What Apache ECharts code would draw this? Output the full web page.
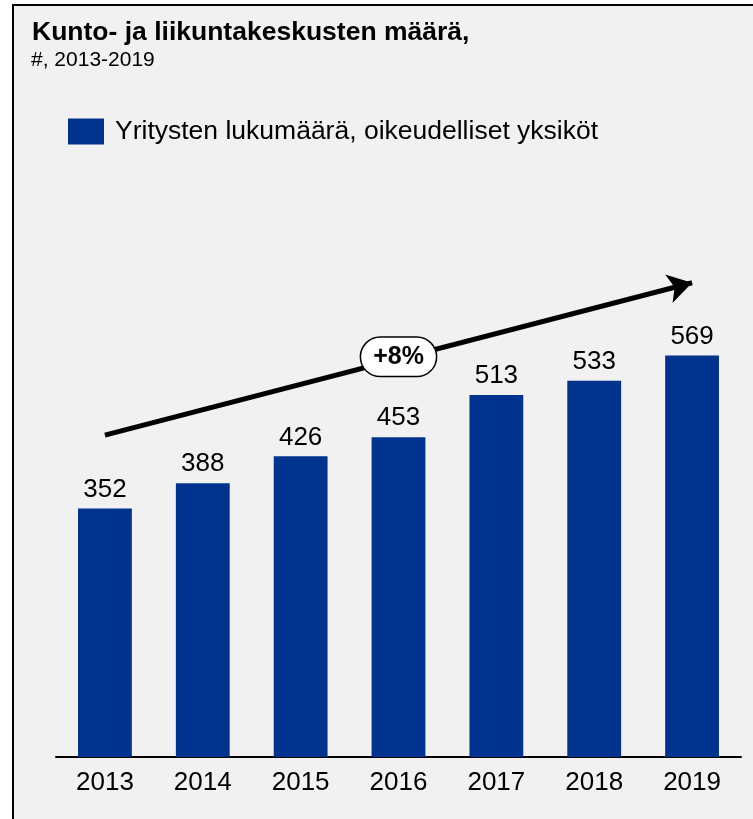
<!DOCTYPE html>
<html>
<head>
<meta charset="utf-8">
<script src="https://cdn.jsdelivr.net/npm/echarts@6/dist/echarts.min.js"></script>
<style>
  html, body { margin: 0; padding: 0; background: #fff; }
  #frame {
    position: absolute; left: 12px; top: 4px; width: 741px; height: 815px;
    background: #f1f1f1; border-top: 2px solid #000; border-left: 2px solid #000;
    box-sizing: border-box;
  }
  #chart { position: absolute; left: 0; top: 0; width: 753px; height: 819px; }
</style>
</head>
<body>
<div id="frame"></div>
<div id="chart"></div>
<script>
// data
const years = ['2013', '2014', '2015', '2016', '2017', '2018', '2019']
const counts = [352, 388, 426, 453, 513, 533, 569]
const seriesName = 'Yritysten lukumäärä, oikeudelliset yksiköt'
const growthLabel = '+8%'
// trend arrow ends (category, value)
const arrowStart = ['2013', 456]
const arrowEnd = ['2019', 672]
const growthPos = ['2016', 567]

const chart = echarts.init(document.getElementById('chart'))
chart.setOption({
  animation: false,
  textStyle: { fontFamily: 'Liberation Sans, Arial, sans-serif' },
  title: [{
    text: 'Kunto- ja liikuntakeskusten määrä,',
    left: 27,
    top: 14,
    textStyle: { fontSize: 26.5, fontWeight: 'bold', color: '#000' }
  }, {
    text: '#, 2013-2019',
    left: 26,
    top: 45,
    textStyle: { fontSize: 21, fontWeight: 'normal', color: '#000' }
  }],
  legend: {
    left: 63,
    top: 113,
    itemWidth: 36,
    itemHeight: 26,
    itemGap: 10,
    icon: 'rect',
    textStyle: { fontSize: 26.5, color: '#000', padding: [0, 0, 0, 6] },
    data: [seriesName]
  },
  grid: {
    left: 56,
    right: 12,
    top: 263,
    height: 494
  },
  xAxis: {
    type: 'category',
    data: years,
    axisLine: { lineStyle: { color: '#000', width: 2 } },
    axisTick: { show: false },
    axisLabel: { fontSize: 26, color: '#000', margin: 13 }
  },
  yAxis: {
    type: 'value',
    min: 0,
    max: 700,
    show: false,
    splitLine: { show: false }
  },
  series: [{
    name: seriesName,
    type: 'bar',
    data: counts,
    barWidth: '55%',
    itemStyle: { color: '#00338e' },
    label: {
      show: true,
      position: 'top',
      distance: 6,
      fontSize: 26,
      color: '#000'
    },
    markLine: {
      silent: true,
      symbol: ['none', 'arrow'],
      symbolSize: [22, 24],
      lineStyle: { color: '#000', width: 5, type: 'solid' },
      label: { show: false },
      data: [[{ coord: arrowStart }, { coord: arrowEnd }]]
    },
    markPoint: {
      silent: true,
      symbol: 'circle',
      symbolSize: 0,
      data: [{ coord: growthPos, value: growthLabel }],
      label: {
        show: true,
        formatter: growthLabel,
        fontSize: 25,
        fontWeight: 'bold',
        color: '#000',
        backgroundColor: '#fff',
        borderColor: '#000',
        borderWidth: 1.5,
        borderRadius: 20,
        padding: [7, 12, 6, 12]
      }
    }
  }]
})
</script>
</body>
</html>
